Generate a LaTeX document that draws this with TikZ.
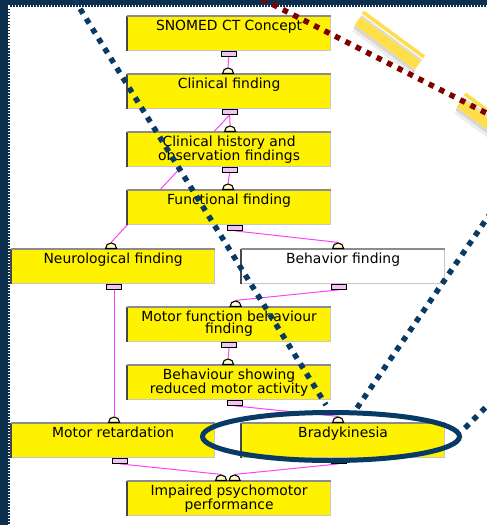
\documentclass[tikz,border=0pt]{standalone}
\usepackage{fontspec}
\setmainfont{DejaVu Sans}
\usetikzlibrary{shapes.geometric}
\definecolor{navy}{RGB}{12,48,78}
\definecolor{dotblue}{RGB}{8,58,102}
\definecolor{dotred}{RGB}{128,0,0}
\definecolor{mag}{RGB}{255,64,255}
\definecolor{tabpink}{RGB}{242,196,242}
\definecolor{semiyel}{RGB}{255,255,200}
\definecolor{hlyel}{RGB}{255,222,76}
\pgfdeclarelayer{back}
\pgfdeclarelayer{mid}
\pgfsetlayers{back,mid,main}
\tikzset{
 box/.style={draw=black!22, line width=1.2pt, minimum width=203pt, minimum height=33.5pt, inner sep=0pt},
 edgeL/.style={draw=black!72, line width=2.2pt},
 edgeT/.style={draw=black!45, line width=1.4pt},
 lbl/.style={font=\fontsize{13.9}{12.4}\selectfont, align=center, inner sep=0pt, text=black},
 tabo/.style={draw=black, fill=tabpink, line width=1.2pt, minimum width=15pt, minimum height=5pt, inner sep=0pt, anchor=north},
 semi/.style={shape=semicircle, draw=black, fill=semiyel, line width=1.1pt, minimum width=11pt, minimum height=5.5pt, inner sep=0pt, anchor=chord center},
 link/.style={draw=mag, line width=1pt},
 bluedots/.style={draw=dotblue, line width=5.5pt, dash pattern=on 5.5pt off 6.1pt},
 reddots/.style={draw=dotred, line width=5.5pt, dash pattern=on 5.5pt off 6.2pt},
}
\newcommand\snbox[5]{%
  \node[box, fill=#4, anchor=north west] (#1) at (#2,#3) {};
  \draw[edgeL] (#1.south west) -- (#1.north west);
  \draw[edgeT] (#1.north west) -- (#1.north east);
  \node[lbl, anchor=north] (#1-t) at ([yshift=-3.6pt]#1.north) {#5};
}
\begin{document}
\begin{tikzpicture}[x=1pt,y=-1pt]
\useasboundingbox (0,0) rectangle (487,525);
\begin{pgfonlayer}{back}
  \fill[navy] (0,0) rectangle (487,525);
  \fill[white] (9.5,6.5) rectangle (487,525);
  \draw[white, line width=1.5pt, dash pattern=on 1.5pt off 1.5pt] (8.75,525) -- (8.75,5.75) -- (487,5.75);
\end{pgfonlayer}
% boxes
\snbox{snomed}{127}{16}{yellow}{SNOMED CT Concept}
\snbox{cf}{127}{74}{yellow}{Clinical finding}
\snbox{ch}{127}{132}{yellow}{Clinical history and\\observation findings}
\snbox{ff}{127}{190}{yellow}{Functional finding}
\snbox{neuro}{11}{249}{yellow}{Neurological finding}
\snbox{behav}{241}{249}{white}{Behavior finding}
\snbox{mf}{127}{307}{yellow}{Motor function behaviour\\finding}
\snbox{bs}{127}{365}{yellow}{Behaviour showing\\reduced motor activity}
\snbox{mr}{11}{423}{yellow}{Motor retardation}
\snbox{brady}{241}{423}{yellow}{Bradykinesia}
\snbox{imp}{127}{481}{yellow}{Impaired psychomotor\\performance}
% outgoing tabs
\node[tabo] (snomed-o) at ([xshift=-0.5pt]snomed.south) {};
\node[tabo] (cf-o) at ([xshift=0.5pt]cf.south) {};
\node[tabo] (ch-o) at ([xshift=0.5pt]ch.south) {};
\node[tabo] (ff-o) at ([xshift=6pt]ff.south) {};
\node[tabo] (neuro-o) at ([xshift=1pt]neuro.south) {};
\node[tabo] (behav-o) at ([xshift=-4.5pt]behav.south) {};
\node[tabo] (mf-o) at (mf.south) {};
\node[tabo] (bs-o) at ([xshift=5.5pt]bs.south) {};
\node[tabo] (mr-o) at ([xshift=7pt]mr.south) {};
\node[tabo] (brady-o) at ([xshift=-4.5pt]brady.south) {};
% incoming semicircles
\node[semi] (cf-i) at ([xshift=-1pt]cf.north) {};
\node[semi] (ch-i) at ([xshift=1pt]ch.north) {};
\node[semi] (ff-i) at ([xshift=-1pt]ff.north) {};
\node[semi] (neuro-i) at ([xshift=-2pt]neuro.north) {};
\node[semi] (behav-i) at ([xshift=-5pt]behav.north) {};
\node[semi] (mf-i) at ([xshift=6.5pt]mf.north) {};
\node[semi] (bs-i) at ([xshift=-1pt]bs.north) {};
\node[semi] (mr-i) at ([xshift=1pt]mr.north) {};
\node[semi] (brady-i) at ([xshift=-5pt]brady.north) {};
\node[semi] (imp-i1) at ([xshift=-8pt]imp.north) {};
\node[semi] (imp-i2) at ([xshift=5.5pt]imp.north) {};
% links
\begin{pgfonlayer}{mid}
  \draw[link] (snomed-o.south) -- (cf-i.apex);
  \draw[link] (cf-o.south) -- (ch-i.apex);
  \draw[link] (cf-o.south) -- (neuro-i.apex);
  \draw[link] (ch-o.south) -- (ff-i.apex);
  \draw[link] (ff-o.south) -- (behav-i.apex);
  \draw[link] (neuro-o.south) -- (mr-i.apex);
  \draw[link] (behav-o.south) -- (mf-i.apex);
  \draw[link] (mf-o.south) -- (bs-i.apex);
  \draw[link] (bs-o.south) -- (brady-i.apex);
  \draw[link] (mr-o.south) -- (imp-i1.apex);
  \draw[link] (brady-o.south) -- (imp-i2.apex);
\end{pgfonlayer}
% highlight strokes
\foreach \px/\py in {357.5/21, 459.5/103}{
  \begin{scope}[shift={(\px,\py)}, rotate=-36.3]
    \fill[black, opacity=0.16] (1pt,-5.2pt) rectangle (76pt,-8pt);
    \fill[black, opacity=0.07] (2pt,-8pt) rectangle (77pt,-11.5pt);
    \fill[black!14] (0pt,5.2pt) rectangle (75pt,7.2pt);
    \fill[hlyel] (0pt,-5.2pt) rectangle (75pt,5.2pt);
    \fill[hlyel] (-1pt,8.6pt) rectangle (75pt,12.2pt);
  \end{scope}
}
% annotation overlay
\draw[reddots] (262,-1) -- (492,116);
\draw[bluedots] (74,-1) -- (326,405);
\draw[bluedots] (357,408) -- (492,211);
\draw[bluedots] (465,428) -- (492,401);
\draw[dotblue, line width=5pt] (331,436.5) ellipse [x radius=128.5pt, y radius=24pt];
\end{tikzpicture}
\end{document}
